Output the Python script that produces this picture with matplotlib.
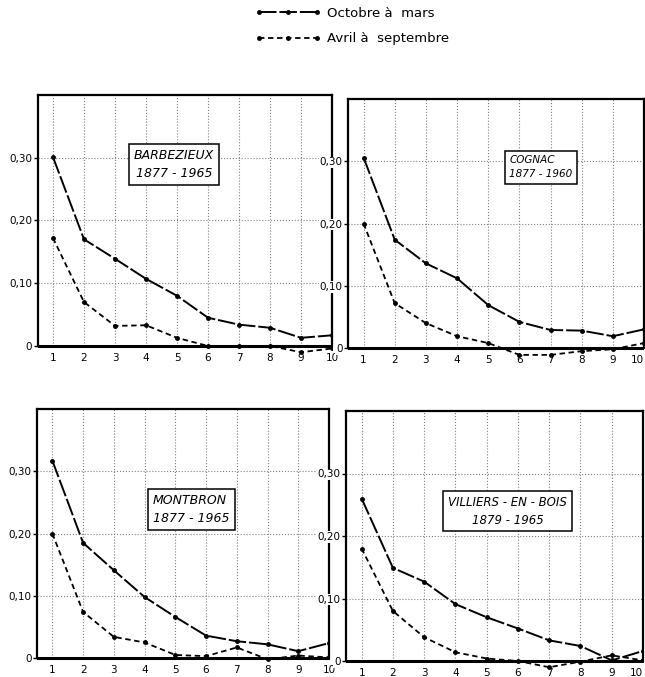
import matplotlib.pyplot as plt

# abscisses communes (1 a 10)
annees = [1, 2, 3, 4, 5, 6, 7, 8, 9, 10]
y_ticks = [0, 0.10, 0.20, 0.30]
y_labels = ['0', '0,10', '0,20', '0,30']

stations = ['BARBEZIEUX', 'COGNAC', 'MONTBRON', 'VILLIERS - EN - BOIS']
periodes = ['1877 - 1965', '1877 - 1960', '1877 - 1965', '1879 - 1965']

legende = ['Octobre à  mars', 'Avril à  septembre']

# Octobre a mars
hiver_barbezieux = [0.301, 0.170, 0.139, 0.107, 0.080, 0.045, 0.034, 0.029, 0.013, 0.017]
hiver_cognac     = [0.306, 0.174, 0.136, 0.112, 0.069, 0.042, 0.029, 0.028, 0.019, 0.030]
hiver_montbron   = [0.317, 0.185, 0.141, 0.098, 0.066, 0.036, 0.027, 0.022, 0.011, 0.024]
hiver_villiers   = [0.260, 0.149, 0.127, 0.091, 0.070, 0.052, 0.033, 0.024, 0.001, 0.016]

# Avril a septembre
ete_barbezieux = [0.172, 0.070, 0.032, 0.033, 0.013, 0.000, 0.000, 0.000, -0.010, -0.004]
ete_cognac     = [0.200, 0.072, 0.040, 0.019, 0.008, -0.011, -0.011, -0.005, -0.002, 0.008]
ete_montbron   = [0.200, 0.074, 0.034, 0.025, 0.005, 0.003, 0.017, -0.002, 0.004, 0.001]
ete_villiers   = [0.180, 0.080, 0.038, 0.014, 0.004, 0.000, -0.010, -0.001, 0.009, 0.001]

hiver = [hiver_barbezieux, hiver_cognac, hiver_montbron, hiver_villiers]
ete = [ete_barbezieux, ete_cognac, ete_montbron, ete_villiers]

W, H = 645, 677
fig = plt.figure(figsize=(W / 100, H / 100), dpi=100)


def cadre_px(gauche, droite, haut, bas):
    # rectangle en pixels -> fractions de figure
    return [gauche / W, 1 - bas / H, (droite - gauche) / W, (bas - haut) / H]


cadres = [cadre_px(37.5, 332, 95, 356),
          cadre_px(348, 644, 99, 358),
          cadre_px(37, 329, 409, 668),
          cadre_px(346, 643, 411, 671)]

# cartouche: x, y (donnees), alignement du texte, taille
cartouches = [(4.9, 0.29, 'center', 9), (6.69, 0.29, 'left', 7.5),
              (5.52, 0.238, 'left', 9), (5.67, 0.24, 'center', 8.5)]

for i in range(4):
    ax = fig.add_axes(cadres[i])
    ax.set_xlim(0.5, 10)
    ax.set_ylim(-0.016, 0.40)

    # quadrillage pointille
    ax.vlines(annees[:-1], 0, 0.40, colors='0.5', linestyles=':', linewidth=0.8, zorder=1)
    ax.hlines(y_ticks[1:], 0.5, 10, colors='0.5', linestyles=':', linewidth=0.8, zorder=1)
    ax.axhline(0, color='black', linewidth=2.2, zorder=2)

    l1, = ax.plot(annees, hiver[i], color='black', linewidth=1.4,
                  linestyle=(0, (9, 1.5)), marker='o', markersize=2.5, zorder=3)
    l2, = ax.plot(annees, ete[i], color='black', linewidth=1.3,
                  linestyle=(0, (3, 2)), marker='o', markersize=2.5, zorder=3)

    for cote in ['left', 'right', 'top']:
        ax.spines[cote].set_linewidth(1.6)
    ax.spines['left'].set_bounds(0, 0.40)
    ax.spines['right'].set_bounds(0, 0.40)
    ax.spines['bottom'].set_visible(False)

    ax.set_xticks(annees)
    ax.set_xticklabels([str(a) for a in annees])
    ax.tick_params(axis='x', length=0, pad=-2, labelsize=7.5)
    ax.set_yticks(y_ticks)
    ax.set_yticklabels(y_labels)
    ax.tick_params(axis='y', length=3, width=1, pad=1, labelsize=7.5)
    if i % 2 == 1:
        for lab in ax.get_yticklabels():
            lab.set_bbox(dict(facecolor='white', edgecolor='none', pad=0.5))
        # le "10" touche le bord droit de la feuille
        ax.get_xticklabels()[-1].set_horizontalalignment('right')

    cx, cy, al, fs = cartouches[i]
    ax.text(cx, cy, stations[i] + '\n' + periodes[i], ha='center', va='center',
            multialignment=al, fontsize=fs, style='italic', linespacing=1.5,
            bbox=dict(boxstyle='square,pad=0.4', facecolor='white',
                      edgecolor='black', linewidth=1.1), zorder=4)

    if i == 0:
        poignees = [l1, l2]

fig.legend(poignees, legende, loc='upper left', bbox_to_anchor=(0.395, 0.99),
           frameon=False, fontsize=9.5, handlelength=5, numpoints=3,
           labelspacing=0.95, borderpad=0, borderaxespad=0, handletextpad=0.5)

plt.savefig('out.png', dpi=100)
